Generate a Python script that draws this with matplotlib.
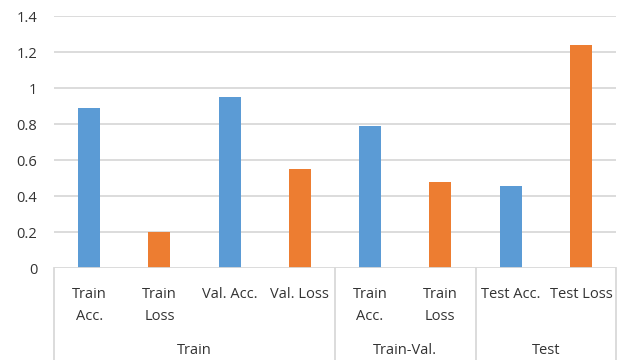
import matplotlib
matplotlib.use("Agg")
import matplotlib.pyplot as plt
from matplotlib.transforms import blended_transform_factory

# Metric values per category (one series per category)
categories = ["Train\nAcc.", "Train\nLoss", "Val. Acc.", "Val. Loss",
              "Train\nAcc.", "Train\nLoss", "Test Acc.", "Test Loss"]
accuracy = [0.89, None, 0.95, None, 0.79, None, 0.455, None]
loss = [None, 0.20, None, 0.55, None, 0.48, None, 1.24]
groups = ["Train", "Train-Val.", "Test"]
group_sizes = [4, 2, 2]
y_ticks = [0, 0.2, 0.4, 0.6, 0.8, 1, 1.2, 1.4]
y_tick_labels = ["0", "0.2", "0.4", "0.6", "0.8", "1", "1.2", "1.4"]

BLUE = "#5B9BD5"
ORANGE = "#ED7D31"
GRID = "#D9D9D9"
TEXT = "#333333"

plt.rcParams["font.family"] = ["Open Sans", "DejaVu Sans"]

W, H = 623, 360
fig = plt.figure(figsize=(W / 100, H / 100), dpi=100)
left, right, bottom, top = 54, 616, 268.3, 16
ax = fig.add_axes([left / W, 1 - bottom / H, (right - left) / W, (bottom - top) / H])

xs = list(range(len(categories)))
bw = 0.31
for x, v in zip(xs, accuracy):
    if v is not None:
        ax.bar(x, v, width=bw, color=BLUE, zorder=3)
for x, v in zip(xs, loss):
    if v is not None:
        ax.bar(x, v, width=bw, color=ORANGE, zorder=3)

ax.set_xlim(-0.5, len(categories) - 0.5)
ax.set_ylim(0, 1.4)
for spine in ax.spines.values():
    spine.set_visible(False)
ax.set_xticks([])
ax.set_yticks(y_ticks)
ax.set_yticklabels(y_tick_labels, fontsize=10.5, color=TEXT)
ax.tick_params(axis="y", length=0, pad=12)
for t in y_ticks[1:]:
    ax.axhline(t, color=GRID, lw=1.3, zorder=1)
ax.axhline(0, color=GRID, lw=1.3, zorder=4)

# Multi-level category axis
ax_bottom_frac = (H - bottom) / (bottom - top)
trans = blended_transform_factory(ax.transData, ax.transAxes)
px = 1.0 / (bottom - top)
for x, lab in zip(xs, categories):
    lines = lab.split("\n")
    for i, ln in enumerate(lines):
        ax.text(x, -(294 - bottom + 22 * i) * px, ln, transform=trans,
                ha="center", va="center", fontsize=10.5, color=TEXT, clip_on=False)

bounds = [-0.5]
for s in group_sizes:
    bounds.append(bounds[-1] + s)
for b in bounds:
    ax.plot([b, b], [0, -ax_bottom_frac], transform=trans, color=GRID,
            lw=1.3, clip_on=False)
for g, a, b in zip(groups, bounds[:-1], bounds[1:]):
    ax.text((a + b) / 2, -(351 - bottom) * px, g, transform=trans,
            ha="center", va="center", fontsize=10.5, color=TEXT, clip_on=False)

fig.savefig("out.png", dpi=100, facecolor="white")
